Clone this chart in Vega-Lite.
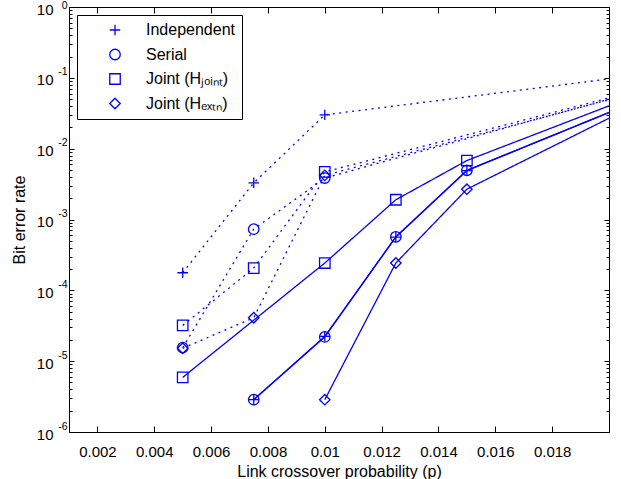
{
  "$schema": "https://vega.github.io/schema/vega-lite/v6.json",
  "width": 540,
  "height": 425,
  "autosize": {"type": "none"},
  "padding": {"left": 69, "top": 7, "right": 12, "bottom": 47},
  "background": "white",
  "config": {
    "font": "Liberation Sans",
    "view": {"stroke": "black", "strokeWidth": 1},
    "axis": {
      "domain": false, "tickColor": "black", "labelColor": "black", "titleColor": "black",
      "tickWidth": 1, "grid": false,
      "labelFont": "Liberation Sans", "titleFont": "Liberation Sans", "titleFontWeight": "normal",
      "labelFontSize": 15, "titleFontSize": 16, "labelFlush": false, "labelOverlap": false
    }
  },
  "data": {
    "values": [
      {"p": 0.005, "ber": 0.000177, "scheme": "Independent", "set": "A"},
      {"p": 0.0075, "ber": 0.00329, "scheme": "Independent", "set": "A"},
      {"p": 0.01, "ber": 0.030, "scheme": "Independent", "set": "A"},
      {"p": 0.02, "ber": 0.0965, "scheme": "Independent", "set": "A"},
      {"p": 0.005, "ber": 0.0000155, "scheme": "Serial", "set": "A"},
      {"p": 0.0075, "ber": 0.00073, "scheme": "Serial", "set": "A"},
      {"p": 0.01, "ber": 0.00385, "scheme": "Serial", "set": "A"},
      {"p": 0.02, "ber": 0.0499, "scheme": "Serial", "set": "A"},
      {"p": 0.005, "ber": 0.000032, "scheme": "Joint (H_joint)", "set": "A"},
      {"p": 0.0075, "ber": 0.000206, "scheme": "Joint (H_joint)", "set": "A"},
      {"p": 0.01, "ber": 0.0047, "scheme": "Joint (H_joint)", "set": "A"},
      {"p": 0.02, "ber": 0.052, "scheme": "Joint (H_joint)", "set": "A"},
      {"p": 0.005, "ber": 0.0000152, "scheme": "Joint (H_extn)", "set": "A"},
      {"p": 0.0075, "ber": 0.000041, "scheme": "Joint (H_extn)", "set": "A"},
      {"p": 0.01, "ber": 0.0042, "scheme": "Joint (H_extn)", "set": "A"},
      {"p": 0.02, "ber": 0.049, "scheme": "Joint (H_extn)", "set": "A"},
      {"p": 0.0075, "ber": 0.00000286, "scheme": "Independent", "set": "B"},
      {"p": 0.01, "ber": 0.0000224, "scheme": "Independent", "set": "B"},
      {"p": 0.0125, "ber": 0.000565, "scheme": "Independent", "set": "B"},
      {"p": 0.015, "ber": 0.0049, "scheme": "Independent", "set": "B"},
      {"p": 0.02, "ber": 0.0323, "scheme": "Independent", "set": "B"},
      {"p": 0.0075, "ber": 0.00000286, "scheme": "Serial", "set": "B"},
      {"p": 0.01, "ber": 0.000022, "scheme": "Serial", "set": "B"},
      {"p": 0.0125, "ber": 0.00057, "scheme": "Serial", "set": "B"},
      {"p": 0.015, "ber": 0.00495, "scheme": "Serial", "set": "B"},
      {"p": 0.02, "ber": 0.0325, "scheme": "Serial", "set": "B"},
      {"p": 0.005, "ber": 0.0000059, "scheme": "Joint (H_joint)", "set": "B"},
      {"p": 0.01, "ber": 0.000243, "scheme": "Joint (H_joint)", "set": "B"},
      {"p": 0.0125, "ber": 0.0019, "scheme": "Joint (H_joint)", "set": "B"},
      {"p": 0.015, "ber": 0.0068, "scheme": "Joint (H_joint)", "set": "B"},
      {"p": 0.02, "ber": 0.0402, "scheme": "Joint (H_joint)", "set": "B"},
      {"p": 0.01, "ber": 0.00000286, "scheme": "Joint (H_extn)", "set": "B"},
      {"p": 0.0125, "ber": 0.000243, "scheme": "Joint (H_extn)", "set": "B"},
      {"p": 0.015, "ber": 0.00268, "scheme": "Joint (H_extn)", "set": "B"},
      {"p": 0.02, "ber": 0.0269, "scheme": "Joint (H_extn)", "set": "B"}
    ]
  },
  "layer": [
    {
      "mark": {"type": "line", "color": "#0000ff", "strokeWidth": 1.3, "clip": true},
      "encoding": {
        "x": {
          "field": "p", "type": "quantitative",
          "scale": {"domain": [0.001, 0.02], "nice": false, "zero": false},
          "axis": {
            "orient": "bottom",
            "values": [0.002, 0.004, 0.006, 0.008, 0.01, 0.012, 0.014, 0.016, 0.018],
            "format": "~g", "ticks": false, "labelPadding": 12,
            "title": "Link crossover probability (p)", "titlePadding": 4
          }
        },
        "y": {
          "field": "ber", "type": "quantitative",
          "scale": {"type": "log", "domain": [0.000001, 1], "nice": false},
          "axis": {
            "orient": "left",
            "values": [0.000001, 0.00001, 0.0001, 0.001, 0.01, 0.1, 1],
            "labelExpr": "'10'", "ticks": false,
            "labelPadding": 16, "labelOffset": 2, "labelBaseline": "middle",
            "title": "Bit error rate", "titlePadding": 9
          }
        },
        "detail": [{"field": "scheme"}, {"field": "set"}],
        "strokeDash": {
          "field": "set", "type": "nominal",
          "scale": {"domain": ["A", "B"], "range": [[2, 4.5], [1, 0]]},
          "legend": null
        },
        "order": {"field": "p"}
      }
    },
    {
      "transform": [{"filter": "datum.p < 0.02"}],
      "mark": {"type": "point", "filled": false, "color": "#0000ff", "strokeWidth": 1.3, "size": 110, "opacity": 1},
      "encoding": {
        "x": {
          "field": "p", "type": "quantitative",
          "axis": {
            "orient": "top", "offset": -425, "labels": false, "title": null, "tickSize": 6,
            "values": [0.002, 0.004, 0.006, 0.008, 0.01, 0.012, 0.014, 0.016, 0.018]
          }
        },
        "y": {
          "field": "ber", "type": "quantitative",
          "axis": {
            "orient": "right", "offset": -540, "labels": false, "title": null, "tickSize": 5,
            "values": [0.000001, 0.00001, 0.0001, 0.001, 0.01, 0.1, 1]
          }
        },
        "shape": {
          "field": "scheme", "type": "nominal",
          "scale": {
            "domain": ["Independent", "Serial", "Joint (H_joint)", "Joint (H_extn)"],
            "range": ["M-1,0L1,0M0,-1L0,1", "circle", "square", "diamond"]
          },
          "legend": {
            "title": null, "orient": "none", "legendX": 8, "legendY": 8,
            "padding": 7, "strokeColor": "black", "fillColor": "white", "cornerRadius": 0,
            "symbolOffset": 23, "labelOffset": 23, "rowPadding": 8.5,
            "labelFontSize": 16, "labelFont": "Liberation Sans", "labelColor": "black",
            "symbolSize": 110, "symbolStrokeColor": "#0000ff", "symbolFillColor": "transparent", "symbolStrokeWidth": 1.3,
            "labelExpr": "datum.label == 'Joint (H_joint)' ? 'Joint (H\u2c7c\u2092\u1d62\u2099\u209c)' : datum.label == 'Joint (H_extn)' ? 'Joint (H\u2091\u2093\u209c\u2099)' : datum.label"
          }
        }
      }
    },
    {
      "mark": {"type": "point", "opacity": 0},
      "encoding": {
        "x": {
          "field": "p", "type": "quantitative",
          "axis": {
            "orient": "bottom", "offset": -425, "labels": false, "title": null, "tickSize": 6,
            "values": [0.002, 0.004, 0.006, 0.008, 0.01, 0.012, 0.014, 0.016, 0.018]
          }
        },
        "y": {
          "field": "ber", "type": "quantitative",
          "axis": {
            "orient": "left", "offset": -540, "labels": false, "title": null, "tickSize": 5,
            "values": [0.000001, 0.00001, 0.0001, 0.001, 0.01, 0.1, 1]
          }
        }
      }
    },
    {
      "mark": {"type": "point", "opacity": 0},
      "encoding": {
        "x": {"field": "p", "type": "quantitative", "axis": null},
        "y": {
          "field": "ber", "type": "quantitative",
          "axis": {
            "orient": "right", "offset": -540, "labels": false, "title": null, "tickSize": 3,
            "values": [0.000002,0.000003,0.000004,0.000005,0.000006,0.000007,0.000008,0.000009,
                       0.00002,0.00003,0.00004,0.00005,0.00006,0.00007,0.00008,0.00009,
                       0.0002,0.0003,0.0004,0.0005,0.0006,0.0007,0.0008,0.0009,
                       0.002,0.003,0.004,0.005,0.006,0.007,0.008,0.009,
                       0.02,0.03,0.04,0.05,0.06,0.07,0.08,0.09,
                       0.2,0.3,0.4,0.5,0.6,0.7,0.8,0.9]
          }
        }
      }
    },
    {
      "mark": {"type": "point", "opacity": 0},
      "encoding": {
        "x": {"field": "p", "type": "quantitative", "axis": null},
        "y": {
          "field": "ber", "type": "quantitative",
          "axis": {
            "orient": "left", "offset": -540, "labels": false, "title": null, "tickSize": 3,
            "values": [0.000002,0.000003,0.000004,0.000005,0.000006,0.000007,0.000008,0.000009,
                       0.00002,0.00003,0.00004,0.00005,0.00006,0.00007,0.00008,0.00009,
                       0.0002,0.0003,0.0004,0.0005,0.0006,0.0007,0.0008,0.0009,
                       0.002,0.003,0.004,0.005,0.006,0.007,0.008,0.009,
                       0.02,0.03,0.04,0.05,0.06,0.07,0.08,0.09,
                       0.2,0.3,0.4,0.5,0.6,0.7,0.8,0.9]
          }
        }
      }
    },
    {
      "mark": {"type": "point", "opacity": 0},
      "encoding": {
        "x": {"field": "p", "type": "quantitative", "axis": null},
        "y": {
          "field": "ber", "type": "quantitative",
          "axis": {
            "orient": "left", "ticks": false, "title": null,
            "values": [0.000001, 0.00001, 0.0001, 0.001, 0.01, 0.1, 1],
            "labelExpr": "['0','-1','-2','-3','-4','-5','-6'][-round(log(datum.value)/LN10)]",
            "labelFontSize": 10.5, "labelPadding": 2,
            "labelOffset": {"condition": {"test": "datum.value > 0.5", "value": -2}, "value": -6},
            "labelBaseline": "middle"
          }
        }
      }
    }
  ],
  "resolve": {"axis": {"x": "independent", "y": "independent"}}
}
